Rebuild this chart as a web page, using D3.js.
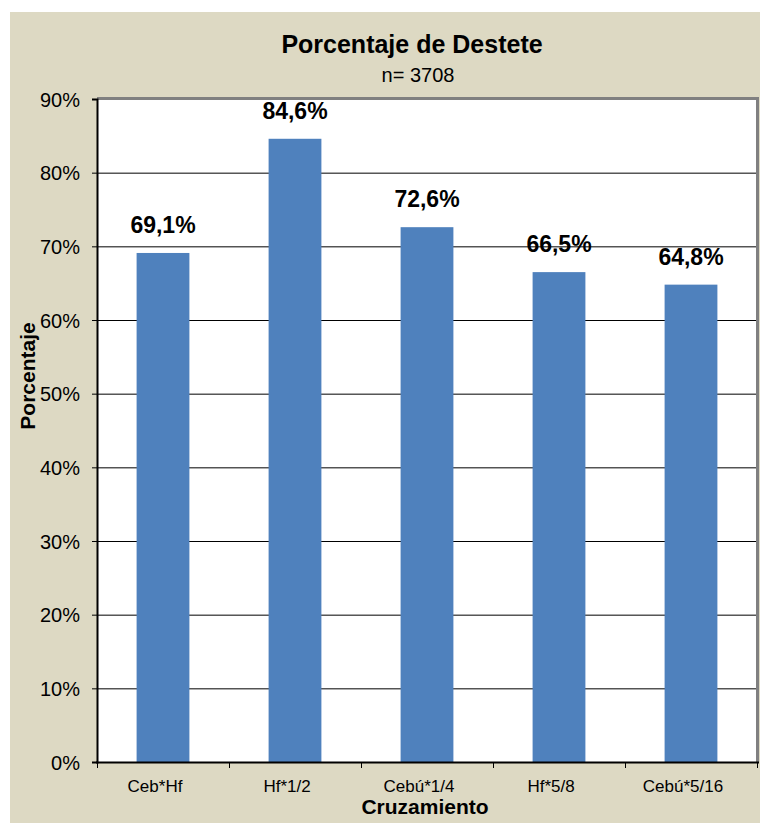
<!DOCTYPE html>
<html>
<head>
<meta charset="utf-8">
<script src="https://cdn.jsdelivr.net/npm/d3@7"></script>
<style>
  body { margin: 0; background: #fff; }
  text { font-family: Arial, "Liberation Sans", sans-serif; fill: #000; }
</style>
</head>
<body>
<svg width="760" height="823"></svg>
<script>
var categories = ["Ceb*Hf", "Hf*1/2", "Cebú*1/4", "Hf*5/8", "Cebú*5/16"];
var values = [69.1, 84.6, 72.6, 66.5, 64.8];
var yTicks = [0, 10, 20, 30, 40, 50, 60, 70, 80, 90];

var svg = d3.select("svg"),
    pLeft = 97, pRight = 757, pTop = 99, pBottom = 762;

// beige chart background
svg.append("rect")
    .attr("x", 10).attr("y", 12)
    .attr("width", 750).attr("height", 811)
    .attr("fill", "#ddd9c3");

var x = d3.scaleBand()
    .domain(categories)
    .range([pLeft, pRight])
    .paddingInner(0.6)
    .paddingOuter(0.3);

var y = d3.scaleLinear()
    .domain([0, 90])
    .range([pBottom, pTop]);

// plot area
svg.append("rect")
    .attr("x", pLeft).attr("y", pTop)
    .attr("width", pRight - pLeft).attr("height", pBottom - pTop)
    .attr("fill", "#fff");

// gridlines
svg.append("g")
    .selectAll("line")
    .data(yTicks.slice(1))
    .enter().append("line")
    .attr("x1", pLeft).attr("x2", pRight)
    .attr("y1", function (d) { return y(d) + 0.5; })
    .attr("y2", function (d) { return y(d) + 0.5; })
    .attr("stroke", "#000")
    .attr("stroke-width", 1);

// plot border (gray top / right)
svg.append("path")
    .attr("d", "M" + pLeft + "," + (pTop - 0.5) + "H" + (pRight + 0.5) + "V" + pBottom)
    .attr("fill", "none")
    .attr("stroke", "#808080")
    .attr("stroke-width", 3);

// bars
svg.append("g")
    .selectAll("rect")
    .data(values)
    .enter().append("rect")
    .attr("x", function (d, i) { return x(categories[i]); })
    .attr("y", function (d) { return y(d); })
    .attr("width", x.bandwidth())
    .attr("height", function (d) { return pBottom - y(d); })
    .attr("fill", "#4f81bd");

// y axis
var yAxis = svg.append("g")
    .attr("transform", "translate(" + pLeft + ",0)")
    .call(d3.axisLeft(y).tickValues(yTicks)
        .tickFormat(function (d) { return d + "%"; })
        .tickSize(5).tickPadding(12));
yAxis.select(".domain").attr("stroke", "#000").attr("stroke-width", 2);
yAxis.selectAll(".tick line").attr("stroke", "#000");
yAxis.selectAll("text").style("font-size", "20px").attr("dy", "0.35em");

// x axis
var xAxis = svg.append("g")
    .attr("transform", "translate(0," + pBottom + ")")
    .call(d3.axisBottom(x).tickSize(0).tickPadding(0));
xAxis.select(".domain").remove();
xAxis.selectAll("text")
    .style("font-size", "17px")
    .attr("y", 30).attr("dy", 0).attr("dx", -8);

svg.append("line")
    .attr("x1", pLeft - 1).attr("x2", pRight + 2)
    .attr("y1", pBottom + 0.5).attr("y2", pBottom + 0.5)
    .attr("stroke", "#000").attr("stroke-width", 2);

// x ticks on category boundaries
var step = x.step();
var edges = d3.range(categories.length + 1).map(function (i) { return pLeft + i * step; });
svg.append("g")
    .selectAll("line")
    .data(edges)
    .enter().append("line")
    .attr("x1", function (d) { return Math.round(d) + 0.5; })
    .attr("x2", function (d) { return Math.round(d) + 0.5; })
    .attr("y1", pBottom).attr("y2", pBottom + 6)
    .attr("stroke", "#000");

// data labels
svg.append("g")
    .selectAll("text")
    .data(values)
    .enter().append("text")
    .attr("x", function (d, i) { return x(categories[i]) + x.bandwidth() / 2; })
    .attr("y", function (d) { return y(d) - 20; })
    .attr("text-anchor", "middle")
    .style("font-size", "23px")
    .style("font-weight", "bold")
    .text(function (d) { return d.toFixed(1).replace(".", ",") + "%"; });

// titles
svg.append("text")
    .attr("x", 412).attr("y", 53)
    .attr("text-anchor", "middle")
    .style("font-size", "25px").style("font-weight", "bold")
    .text("Porcentaje de Destete");

svg.append("text")
    .attr("x", 418).attr("y", 82)
    .attr("text-anchor", "middle")
    .style("font-size", "20px")
    .text("n= 3708");

svg.append("text")
    .attr("transform", "translate(35,376) rotate(-90)")
    .attr("text-anchor", "middle")
    .style("font-size", "21px").style("font-weight", "bold")
    .text("Porcentaje");

svg.append("text")
    .attr("x", 425).attr("y", 814)
    .attr("text-anchor", "middle")
    .style("font-size", "21px").style("font-weight", "bold")
    .text("Cruzamiento");
</script>
</body>
</html>
